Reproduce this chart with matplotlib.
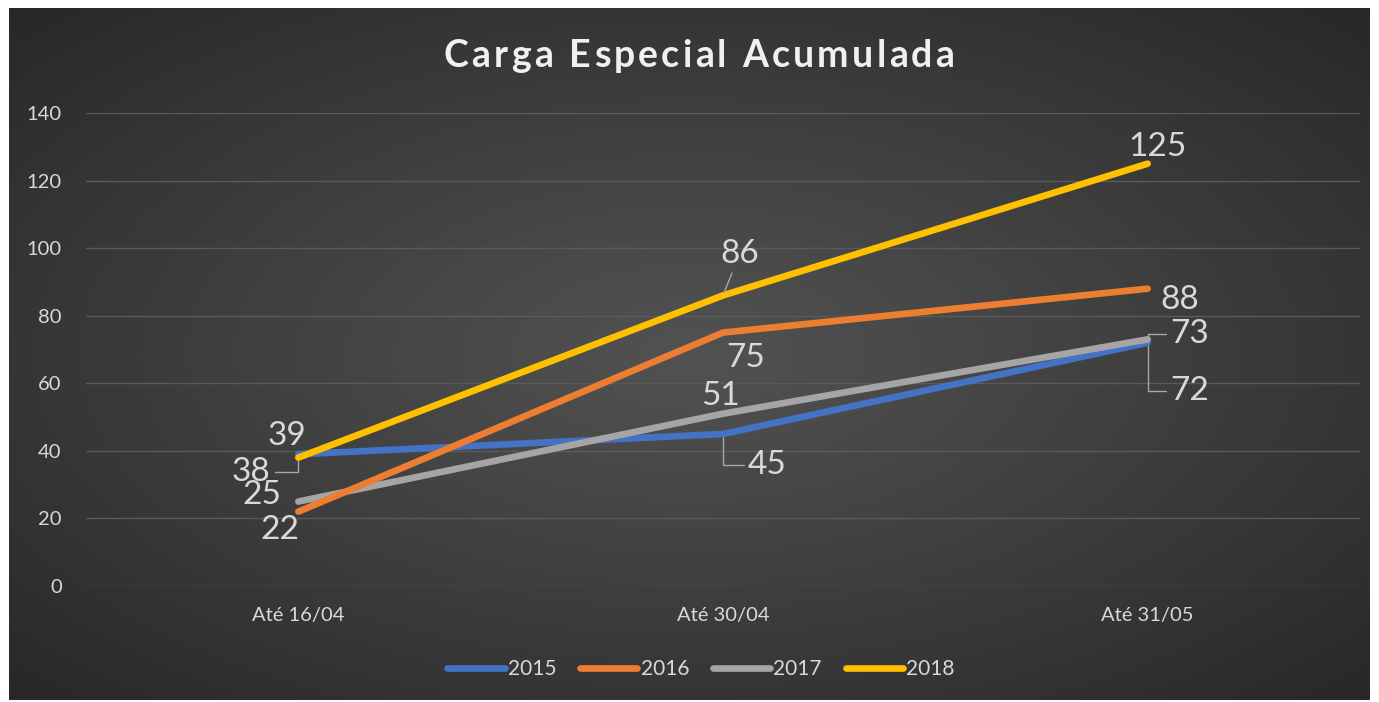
import numpy as np
import matplotlib
matplotlib.use("Agg")
import matplotlib.pyplot as plt

plt.rcParams['font.family'] = ['Lato', 'DejaVu Sans']

# ---- data ----
categories = ["Até 16/04", "Até 30/04", "Até 31/05"]
series_names = ["2015", "2016", "2017", "2018"]
v2015 = [39, 45, 72]
v2016 = [22, 75, 88]
v2017 = [25, 51, 73]
v2018 = [38, 86, 125]
yticks = [0, 20, 40, 60, 80, 100, 120, 140]
title = "Carga Especial Acumulada"

values = [v2015, v2016, v2017, v2018]
colors = ["#4472C4", "#ED7D31", "#A5A5A5", "#FFC000"]
zorders = [3, 5, 4, 6]

ANG = "angle,angleA=0,angleB=90,rad=0"
# label offsets in points (dx, dy) and leader-line style
label_layout = {
    "2015": [((-8, 13), None), ((32, -22), ANG), ((30, -35), ANG)],
    "2016": [((-13, -13), None), ((16, -18), None), ((23, -8), None)],
    "2017": [((-26, 5), None), ((-2, 13), None), ((30, 4), ANG)],
    "2018": [((-34, -10), ANG), ((12, 30), "arc3"), ((7, 12), None)],
}

W, H = 1379, 702
fig = plt.figure(figsize=(W / 100, H / 100), dpi=100)
fig.patch.set_facecolor("white")

# background panel with radial gradient
bx0, by0, bx1, by1 = 9, 2, 1370, 694
bg = fig.add_axes([bx0 / W, by0 / H, (bx1 - bx0) / W, (by1 - by0) / H])
bg.set_axis_off()
nx, ny = 600, 300
xx, yy = np.meshgrid(np.linspace(-1, 1, nx), np.linspace(-1, 1, ny))
r = np.sqrt(xx ** 2 + yy ** 2) / np.sqrt(2)
c_center, c_edge = 0.32, 0.155
g = c_center - (c_center - c_edge) * np.clip(r, 0, 1) ** 1.1
img = np.dstack([g, g, g])
bg.imshow(img, aspect="auto", extent=[0, 1, 0, 1], interpolation="bilinear")
bg.set_xlim(0, 1)
bg.set_ylim(0, 1)

# main axes
ax = fig.add_axes([86 / W, (H - 586) / H, 1274 / W, 473 / H])
ax.patch.set_alpha(0)
x = np.arange(len(categories)) + 0.5
for name, vals, col, z in zip(series_names, values, colors, zorders):
    ax.plot(x, vals, color=col, lw=4.8, solid_capstyle="round", solid_joinstyle="round",
            label=name, zorder=z)
    for xi, v, ((dx, dy), conn) in zip(x, vals, label_layout[name]):
        kw = {}
        if conn is not None:
            kw["arrowprops"] = dict(arrowstyle="-", color="#a6a6a6", lw=1.0,
                                    connectionstyle=conn, shrinkA=1, shrinkB=2)
        ax.annotate(str(v), xy=(xi, v), xytext=(dx, dy), textcoords="offset points",
                    ha="center", va="center", fontsize=24, color="#d9d9d9", zorder=10, **kw)

ax.set_xlim(0, 3)
ax.set_ylim(0, 140)
ax.set_yticks(yticks)
ax.set_xticks(x)
ax.set_xticklabels(categories)
ax.tick_params(axis="both", length=0, colors="#d9d9d9", labelsize=14.5)
ax.tick_params(axis="y", pad=17.5)
ax.tick_params(axis="x", pad=15)
ax.grid(axis="y", color="#5a5a5a", lw=1.0, zorder=0)
ax.set_axisbelow(True)
for s in ax.spines.values():
    s.set_visible(False)

# title with letter spacing
renderer = fig.canvas.get_renderer()
tsize = 27
tspacing = 3.2  # extra px between characters
chars = []
total = 0.0
for ch in title:
    t = fig.text(0, 0, ch if ch != " " else "n", fontsize=tsize, fontweight="bold")
    w = t.get_window_extent(renderer).width
    t.remove()
    if ch == " ":
        w *= 0.45
    chars.append((ch, w))
    total += w + tspacing
total -= tspacing
xpos = 699 - total / 2
for ch, w in chars:
    if ch != " ":
        fig.text(xpos / W, 1 - 56 / H, ch, ha="left", va="center", fontsize=tsize,
                 fontweight="bold", color="#f0f0f0")
    xpos += w + tspacing

leg = fig.legend(loc="center", bbox_to_anchor=(701 / W, 1 - 669 / H), ncol=4, frameon=False,
                 fontsize=15, labelcolor="#d9d9d9", handlelength=2.75, handletextpad=0.15,
                 columnspacing=1.15)
for h in leg.get_lines():
    h.set_solid_capstyle("round")
    h.set_linewidth(4.8)

fig.savefig("out.png", dpi=100, facecolor=fig.get_facecolor())
